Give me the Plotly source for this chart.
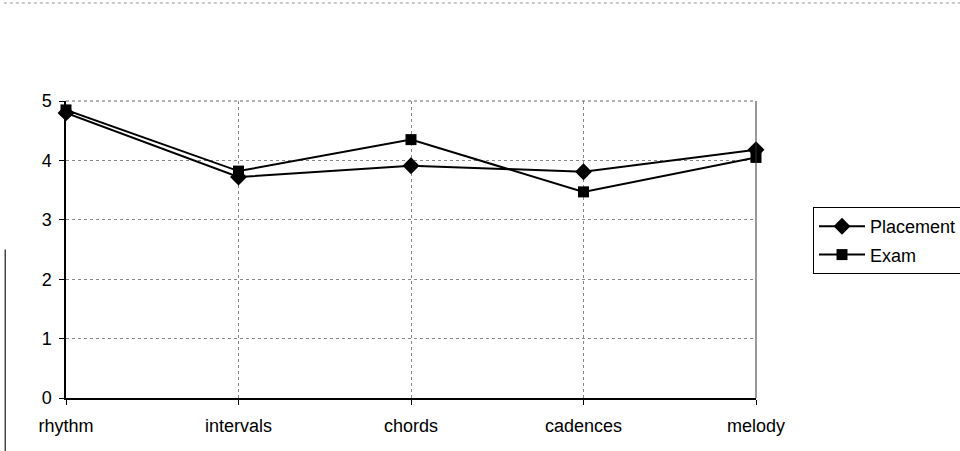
import plotly.graph_objects as go

categories = ["rhythm", "intervals", "chords", "cadences", "melody"]
placement = [4.80, 3.72, 3.91, 3.81, 4.18]
exam = [4.85, 3.82, 4.35, 3.47, 4.05]
y_ticks = [0, 1, 2, 3, 4, 5]

fig = go.Figure()
fig.add_trace(go.Scatter(
    x=categories, y=placement, name="Placement", mode="lines+markers",
    legendgroup="a",
    line=dict(color="black", width=2),
    marker=dict(symbol="diamond", size=13, color="black"),
    cliponaxis=False,
))
fig.add_trace(go.Scatter(
    x=categories, y=exam, name="Exam", mode="lines+markers",
    legendgroup="b",
    line=dict(color="black", width=2),
    marker=dict(symbol="square", size=11, color="black"),
    cliponaxis=False,
))

fig.update_layout(
    width=960, height=451,
    margin=dict(l=66, r=204, t=101, b=53, autoexpand=False),
    paper_bgcolor="white", plot_bgcolor="white",
    font=dict(family="Liberation Sans, Arial, sans-serif", size=18, color="black"),
    showlegend=True,
    legend=dict(
        xref="container", yref="container",
        x=813 / 960, y=1 - 207 / 451, xanchor="left", yanchor="top",
        bordercolor="black", borderwidth=1, bgcolor="white",
        font=dict(size=18), traceorder="grouped", tracegroupgap=2, itemwidth=46,
    ),
    xaxis=dict(
        type="category", range=[0, 4],
        showgrid=True, gridcolor="#888", griddash="dot", gridwidth=1,
        showline=True, linecolor="black", linewidth=1.5,
        ticks="outside", ticklen=5, tickcolor="black",
        tickfont=dict(size=18), ticklabelstandoff=6,
        mirror=False, zeroline=False,
    ),
    yaxis=dict(
        range=[0, 5], tickvals=y_ticks,
        showgrid=True, gridcolor="#888", griddash="dot", gridwidth=1,
        showline=True, linecolor="black", linewidth=1.5,
        ticks="outside", ticklen=5, tickcolor="black",
        tickfont=dict(size=18), zeroline=False, ticklabelstandoff=4,
    ),
    shapes=[
        dict(type="line", xref="paper", yref="paper", x0=0, x1=1, y0=1, y1=1,
             line=dict(color="#666", width=1, dash="dot")),
        dict(type="line", xref="paper", yref="paper", x0=1, x1=1, y0=0, y1=1,
             line=dict(color="#333", width=1)),
        dict(type="line", xref="paper", yref="paper", x0=-0.09, x1=1.3, y0=1.33, y1=1.33,
             line=dict(color="#999", width=1, dash="dot")),
        dict(type="line", xref="paper", yref="paper", x0=-0.088, x1=-0.088, y0=-0.18, y1=0.5,
             line=dict(color="#444", width=1.5)),
    ],
)

fig.write_html("out.html")
